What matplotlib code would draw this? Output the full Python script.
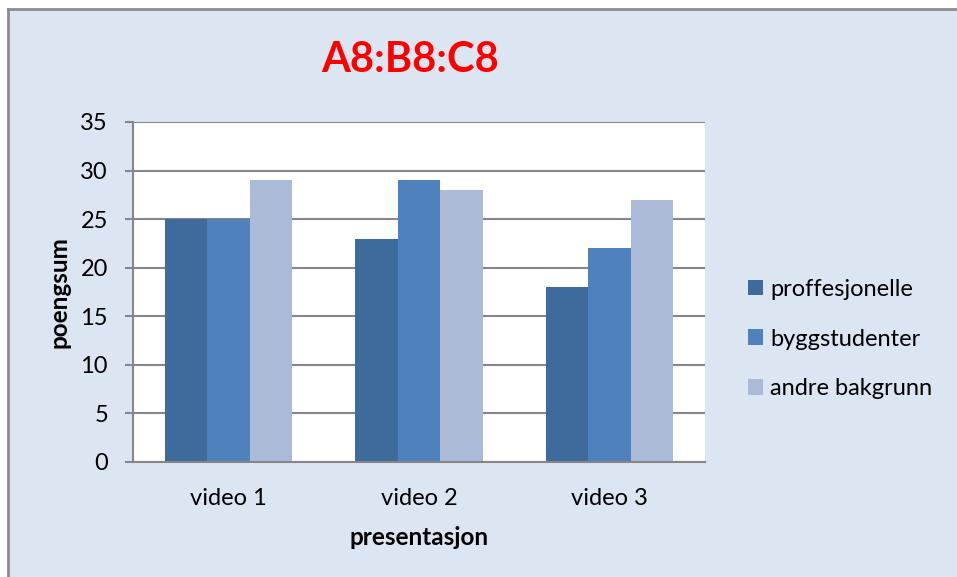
import numpy as np
import matplotlib.pyplot as plt
from matplotlib.patches import Rectangle
from matplotlib.lines import Line2D

plt.rcParams['font.family'] = ['Lato', 'DejaVu Sans']

categories = ['video 1', 'video 2', 'video 3']
series = ['proffesjonelle', 'byggstudenter', 'andre bakgrunn']
proffesjonelle = [25, 23, 18]
byggstudenter = [25, 29, 22]
andre_bakgrunn = [29, 28, 27]
colors = ['#3f6a9c', '#4f81bd', '#aabad7']
yticks = [0, 5, 10, 15, 20, 25, 30, 35]

W, H = 957, 577
fig = plt.figure(figsize=(W / 100, H / 100), dpi=100, facecolor='white')

# chart area background with border on the top and left edges
fig.patches.append(Rectangle((8 / W, 0), 1, 1 - 9 / H, transform=fig.transFigure,
                             facecolor='#dce6f2', edgecolor='none', zorder=-2))
fig.lines.append(Line2D([8 / W, 1], [1 - 9 / H, 1 - 9 / H], transform=fig.transFigure,
                        color='#8c8c8c', lw=2, zorder=-1))
fig.lines.append(Line2D([8 / W, 8 / W], [0, 1 - 9 / H], transform=fig.transFigure,
                        color='#8c8c8c', lw=2, zorder=-1))

ax = fig.add_axes([133 / W, 1 - 462 / H, (705 - 133) / W, (462 - 122) / H])
ax.set_facecolor('white')

x = np.arange(len(categories))
bw = 1 / 4.5
for i, (vals, name) in enumerate(zip([proffesjonelle, byggstudenter, andre_bakgrunn], series)):
    ax.bar(x + (i - 1) * bw, vals, bw, color=colors[i], label=name, zorder=2)

ax.set_xlim(-0.5, 2.5)
ax.set_ylim(0, 35)
ax.set_yticks(yticks)
ax.set_axisbelow(True)
ax.yaxis.grid(True, color='#868686', lw=1.5)

for s in ['top', 'right']:
    ax.spines[s].set_visible(False)
for s in ['left', 'bottom']:
    ax.spines[s].set_color('#868686')
    ax.spines[s].set_linewidth(1.5)

ax.tick_params(axis='y', length=6, width=1.5, color='#868686', pad=12, labelsize=17)
ax.tick_params(axis='x', length=0, pad=19, labelsize=17)
ax.set_xticks(x)
ax.set_xticklabels(categories)

ax.set_xlabel('presentasjon', fontsize=17.5, fontweight='bold', labelpad=12)
ax.set_ylabel('poengsum', fontsize=17.5, fontweight='bold', labelpad=7)

fig.text(410 / W, 1 - 60 / H, 'A8:B8:C8', color='#ff0000', fontsize=30,
         fontweight='bold', ha='center', va='center')

ax.legend(loc='center left', bbox_to_anchor=(748 / W, 1 - 339 / H),
          bbox_transform=fig.transFigure, frameon=False, fontsize=17,
          borderpad=0, borderaxespad=0,
          handlelength=0.65, handleheight=0.65, handletextpad=0.3,
          labelspacing=1.22)

fig.savefig('out.png', dpi=100, facecolor=fig.get_facecolor())
